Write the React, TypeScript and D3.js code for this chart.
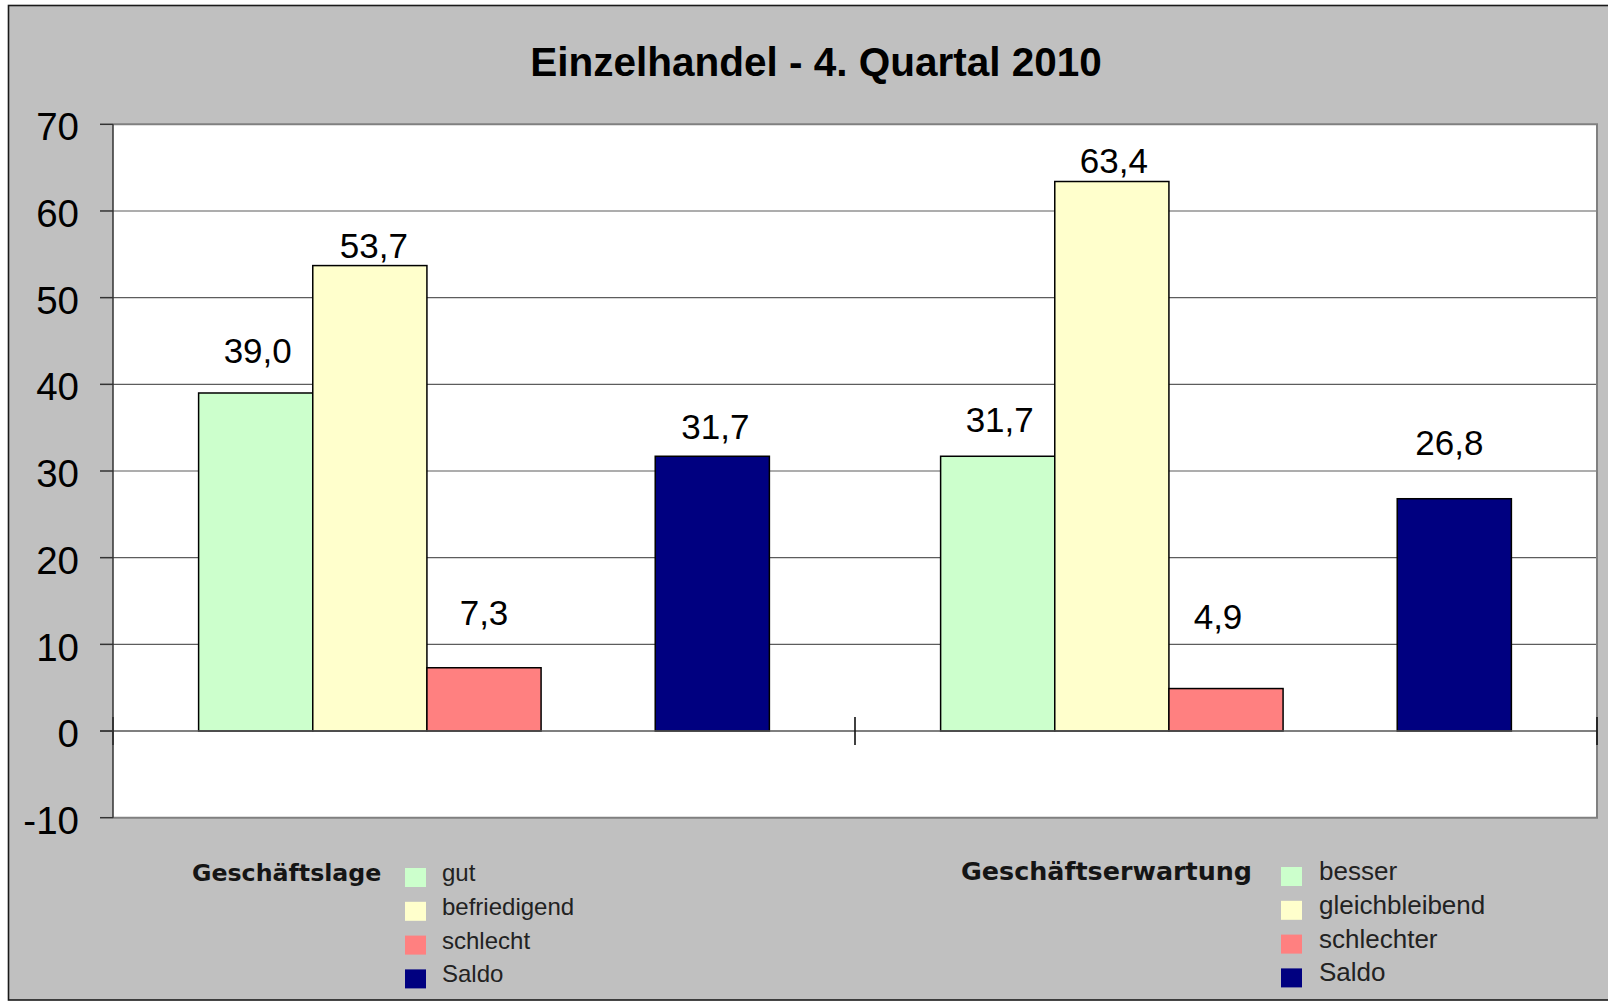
import React from "react";
import * as d3 from "d3";

const categories = ["Geschäftslage", "Geschäftserwartung"];
const slots = ["positiv", "neutral", "negativ", "leer", "saldo"];
const positiveValues = [39.0, 31.7];
const neutralValues = [53.7, 63.4];
const negativeValues = [7.3, 4.9];
const saldoValues = [31.7, 26.8];
const yTicks = [-10, 0, 10, 20, 30, 40, 50, 60, 70];
const titleText = "Einzelhandel - 4. Quartal 2010";
const legendLage = ["gut", "befriedigend", "schlecht", "Saldo"];
const legendErwartung = ["besser", "gleichbleibend", "schlechter", "Saldo"];

// layout (pixels): label baseline lift above bar top and x nudge, per category per series
const labelLift = [
  [30, 8, 43, 17],
  [24.5, 9, 60, 43.5],
];
const labelNudge = [
  [2, 4, 0, 3],
  [2, 2, -8, -5],
];

const W = 1608;
const H = 1001;
const plot = { left: 113, right: 1597, top: 124.3, bottom: 817.7 };

const fmt = (v: number) => v.toFixed(1).replace(".", ",");

export default function App() {
  const y = d3.scaleLinear().domain([-10, 70]).range([plot.bottom, plot.top]);
  const x0 = d3.scaleBand<string>().domain(categories).range([plot.left, plot.right]).paddingInner(0).paddingOuter(0);
  const x1 = d3.scaleBand<string>().domain(slots).range([0, x0.bandwidth()]).paddingInner(0).paddingOuter(0.75);

  const series = [
    { slot: "positiv", values: positiveValues, color: "#CCFFCC" },
    { slot: "neutral", values: neutralValues, color: "#FFFFCC" },
    { slot: "negativ", values: negativeValues, color: "#FF8080" },
    { slot: "saldo", values: saldoValues, color: "#000080" },
  ];

  const y0 = y(0);
  const catTicks = [...categories.map((c) => (x0(c) as number)), plot.right];

  const legends = [
    { title: categories[0], labels: legendLage, titleX: 192, swX: 405, textX: 442, top: 868, size: 24, bold: 23.7 },
    { title: categories[1], labels: legendErwartung, titleX: 961, swX: 1281, textX: 1319, top: 867, size: 26, bold: 25.4 },
  ];

  return (
    <svg width={W} height={H} style={{ position: "absolute", left: 0, top: 0 }} fontFamily="'Liberation Sans', Arial, sans-serif">
      <rect x={0} y={0} width={W} height={H} fill="#ffffff" />
      <rect x={8.5} y={5.5} width={W + 20} height={994.5} fill="#c0c0c0" stroke="#1a1a1a" strokeWidth={1.6} />
      <text x={816} y={76} textAnchor="middle" fontSize={40.5} fontWeight="bold" fill="#000">
        {titleText}
      </text>

      {/* plot area */}
      <rect x={plot.left} y={plot.top} width={plot.right - plot.left} height={plot.bottom - plot.top} fill="#ffffff" />

      {/* gridlines */}
      {yTicks.filter((t) => t !== -10 && t !== 70 && t !== 0).map((t) => (
        <line key={"g" + t} x1={plot.left} x2={plot.right} y1={y(t)} y2={y(t)} stroke="#5c5c5c" strokeWidth={1.2} />
      ))}

      {/* plot border gray */}
      <line x1={plot.left} x2={plot.right + 1} y1={plot.top} y2={plot.top} stroke="#808080" strokeWidth={2} />
      <line x1={plot.right} x2={plot.right} y1={plot.top} y2={plot.bottom} stroke="#808080" strokeWidth={2} />
      <line x1={plot.left} x2={plot.right + 1} y1={plot.bottom} y2={plot.bottom} stroke="#808080" strokeWidth={2} />

      {/* bars */}
      {series.map((s) =>
        categories.map((c, ci) => {
          const bx = (x0(c) as number) + (x1(s.slot) as number);
          const v = s.values[ci];
          return (
            <rect
              key={s.slot + c}
              x={bx}
              y={y(v)}
              width={x1.bandwidth()}
              height={y0 - y(v)}
              fill={s.color}
              stroke="#000"
              strokeWidth={1.5}
            />
          );
        })
      )}

      {/* zero axis */}
      <line x1={100} x2={plot.right} y1={y0} y2={y0} stroke="#555" strokeWidth={1.5} />
      {catTicks.map((cx, i) => (
        <line key={"ct" + i} x1={cx} x2={cx} y1={y0 - 14} y2={y0 + 14} stroke="#111" strokeWidth={1.6} />
      ))}

      {/* y axis */}
      <line x1={plot.left} x2={plot.left} y1={plot.top} y2={plot.bottom} stroke="#333" strokeWidth={1.5} />
      {yTicks.map((t) => (
        <g key={"yt" + t}>
          <line x1={100} x2={plot.left} y1={y(t)} y2={y(t)} stroke="#333" strokeWidth={1.5} />
          <text x={79} y={y(t)} dy="0.42em" textAnchor="end" fontSize={38.5} fill="#000">
            {t}
          </text>
        </g>
      ))}

      {/* data labels */}
      {series.map((s, si) =>
        categories.map((c, ci) => {
          const bx = (x0(c) as number) + (x1(s.slot) as number) + x1.bandwidth() / 2;
          const v = s.values[ci];
          return (
            <text
              key={"l" + s.slot + c}
              x={bx + labelNudge[ci][si]}
              y={y(v) - labelLift[ci][si]}
              textAnchor="middle"
              fontSize={35}
              fill="#000"
            >
              {fmt(v)}
            </text>
          );
        })
      )}

      {/* legends */}
      {legends.map((lg, li) => (
        <g key={"lg" + li}>
          <text x={lg.titleX} y={lg.top + 12.5} fontFamily="'DejaVu Sans', sans-serif" fontWeight="bold" fontSize={lg.bold} fill="#151515">
            {lg.title}
          </text>
          {lg.labels.map((lab, i) => (
            <g key={lab + i}>
              <rect x={lg.swX} y={lg.top + i * 33.8} width={21} height={19} fill={series[i].color} />
              <text x={lg.textX} y={lg.top + i * 33.8 + 13} fontSize={lg.size} fill="#222">
                {lab}
              </text>
            </g>
          ))}
        </g>
      ))}
    </svg>
  );
}
